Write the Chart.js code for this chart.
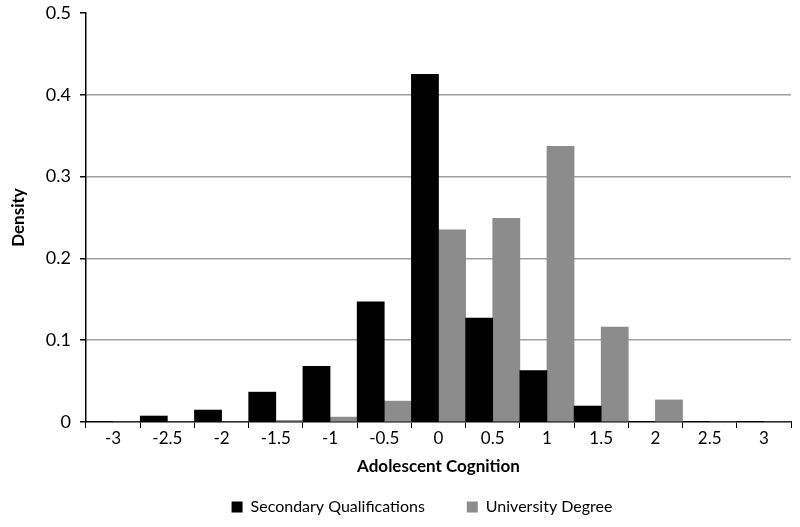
<!DOCTYPE html>
<html>
<head>
<meta charset="utf-8">
<script src="https://cdn.jsdelivr.net/npm/chart.js@4/dist/chart.umd.min.js"></script>
<style>
  html, body { margin: 0; padding: 0; background: #fff; }
  #wrap { width: 800px; height: 527px; }
</style>
</head>
<body>
<div id="wrap"><canvas id="densityChart" width="800" height="527"></canvas></div>
<script>
// categorias del eje X (puntuacion de cognicion)
const cognitionLabels = ["-3", "-2.5", "-2", "-1.5", "-1", "-0.5", "0", "0.5", "1", "1.5", "2", "2.5", "3"];
// densidades
const secondaryValues = [0, 0.0073, 0.0146, 0.0365, 0.068, 0.147, 0.425, 0.127, 0.063, 0.0195, 0, 0, 0];
const universityValues = [0, 0, 0, 0.002, 0.006, 0.0255, 0.235, 0.249, 0.337, 0.116, 0.027, 0, 0];
const densityTicks = [0, 0.1, 0.2, 0.3, 0.4, 0.5];

const fontFamily = "Lato, 'Open Sans', sans-serif";

// mueve la leyenda para que quede como en el original
const legendShift = {
    id: "legendShift",
    afterLayout(chart) {
        const lg = chart.legend;
        lg.left += 53;
        lg.width -= 53;
        lg.top -= 33;
        lg.height += 33;
    }
};

const ctx = document.getElementById("densityChart").getContext("2d");
const densityChart = new Chart(ctx, {
    type: "bar",
    data: {
        labels: cognitionLabels,
        datasets: [{
            label: "Secondary Qualifications",
            data: secondaryValues,
            backgroundColor: "#000000",
            categoryPercentage: 1.0,
            barPercentage: 1.0
        }, {
            label: "University Degree",
            data: universityValues,
            backgroundColor: "#8c8c8c",
            categoryPercentage: 1.0,
            barPercentage: 1.0
        }]
    },
    plugins: [legendShift],
    options: {
        responsive: false,
        animation: false,
        layout: { padding: { top: 0, right: 9, left: 0, bottom: 1 } },
        plugins: {
            legend: {
                position: "bottom",
                maxHeight: 36,
                labels: {
                    boxWidth: 11,
                    boxHeight: 11,
                    padding: 42,
                    color: "#000",
                    font: { family: fontFamily, size: 16 }
                }
            },
            tooltip: { enabled: false }
        },
        scales: {
            x: {
                offset: true,
                grid: {
                    offset: true,
                    drawOnChartArea: false,
                    drawTicks: true,
                    tickLength: 6,
                    tickColor: "#000"
                },
                border: { color: "#000", width: 1.5 },
                ticks: { color: "#000", font: { family: fontFamily, size: 17 }, padding: 0, maxRotation: 0 },
                title: {
                    display: true,
                    text: "Adolescent Cognition",
                    color: "#000",
                    font: { family: fontFamily, size: 17, weight: "bold" },
                    padding: { top: 4, bottom: 13 }
                },
                afterFit: scale => { scale.height = 68; }
            },
            y: {
                min: 0,
                max: 0.5,
                afterBuildTicks: scale => { scale.ticks = densityTicks.map(v => ({ value: v })); },
                grid: {
                    color: c => (c.tick && (c.tick.value === 0 || c.tick.value === 0.5)) ? "rgba(0,0,0,0)" : "#a0a0a0",
                    lineWidth: 1.5,
                    tickLength: 6,
                    tickColor: "#000"
                },
                border: { color: "#000", width: 1.5 },
                ticks: {
                    color: "#000",
                    font: { family: fontFamily, size: 18 },
                    padding: 9,
                    callback: v => v === 0 ? "0" : Number(v).toFixed(1)
                },
                title: {
                    display: true,
                    text: "Density",
                    color: "#000",
                    font: { family: fontFamily, size: 17, weight: "bold" },
                    padding: { top: 8, bottom: 0 }
                },
                afterFit: scale => {
                    scale.width = 86;
                    scale.paddingTop = 13;
                }
            }
        }
    }
});
</script>
</body>
</html>
